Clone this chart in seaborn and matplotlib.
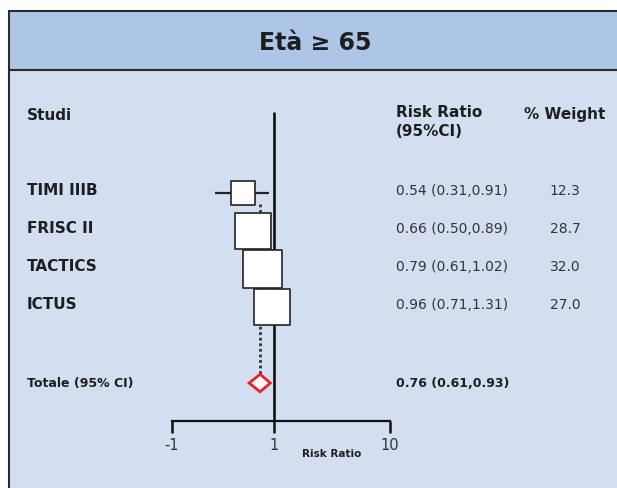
import matplotlib
matplotlib.use('Agg')
import matplotlib.pyplot as plt
import matplotlib.transforms as mtrans
from matplotlib.patches import Rectangle
from matplotlib.lines import Line2D
from matplotlib.ticker import NullLocator
import numpy as np
import pandas as pd
import seaborn as sns

# Data
studies = ['TIMI IIIB', 'FRISC II', 'TACTICS', 'ICTUS']
rr = [0.54, 0.66, 0.79, 0.96]
ci_low = [0.31, 0.50, 0.61, 0.71]
ci_high = [0.91, 0.89, 1.02, 1.31]
weights = [12.3, 28.7, 32.0, 27.0]
weight_labels = ['12.3', '28.7', '32.0', '27.0']

pooled_label = 'Totale (95% CI)'
pooled_rr = 0.76
pooled_low = 0.61
pooled_high = 0.93

tick_values = [0.132, 1, 10]
tick_labels = ['-1', '1', '10']

title = 'Età ≥ 65'

df = pd.DataFrame({'study': studies, 'rr': rr, 'low': ci_low,
                   'high': ci_high, 'weight': weights})
df['row'] = np.arange(len(df))
pooled_row = len(df) + 1

sns.set_style('white')
plt.rcParams['font.family'] = ['DejaVu Sans']

W, H = 617, 489
fig = plt.figure(figsize=(W / 100, H / 100), dpi=100)
fig.patch.set_facecolor('white')

def fx(px):
    return px / W

def fy(py):
    return 1 - py / H

# background panel + title band
fig.add_artist(Rectangle((fx(9), 0), 1 - fx(9), fy(12), transform=fig.transFigure,
                         facecolor='#d3dff0', edgecolor='none', zorder=-2))
fig.add_artist(Rectangle((fx(9), fy(71)), 1 - fx(9), fy(12) - fy(71),
                         transform=fig.transFigure, facecolor='#adc5e7',
                         edgecolor='none', zorder=-1))
for xs, ys in [([fx(9), fx(9)], [0, fy(12)]), ([fx(9), 1], [fy(12), fy(12)]),
               ([fx(9), 1], [fy(71), fy(71)])]:
    fig.add_artist(Line2D(xs, ys, transform=fig.transFigure, color='#2b2b2b',
                          lw=1.5, zorder=-0.5))

fig.text(fx(315), fy(43), title, ha='center', va='center', fontsize=17,
         fontweight='bold', color='#1e1e1e')

# forest axes covering the figure
ax = fig.add_axes([0, 0, 1, 1])
ax.patch.set_alpha(0)
ax.set_xscale('log')
ax.set_xlim(10 ** (-274 / 116), 10 ** ((W - 274) / 116))
row0, step = 194, 38
ax.set_ylim((H - row0) / step, -row0 / step)
axis_row = (421.7 - row0) / step
top_row = (113 - row0) / step
text_shift = -0.09

# reference line at 1
ax.vlines(1, top_row, axis_row, color='#111111', lw=1.9, zorder=2)
# dotted pooled line
ax.vlines(pooled_rr, 0.3, pooled_row - 0.23, color='#333333', lw=2,
          linestyles=(0, (1, 1)), zorder=1)
# confidence intervals
ax.hlines(df['row'], df['low'], df['high'], color='#222222', lw=1.6, zorder=2)
# boxes sized by weight
sns.scatterplot(data=df, x='rr', y='row', size='weight', sizes=(0, 28 ** 2),
                size_norm=(0, 32), marker='s', color='white', edgecolor='#222222',
                linewidth=1.2, legend=False, ax=ax, zorder=3)
# pooled diamond
dh = 0.23
ax.fill([pooled_low, pooled_rr, pooled_high, pooled_rr],
        [pooled_row, pooled_row - dh, pooled_row, pooled_row + dh],
        facecolor='white', edgecolor='#e8212a', lw=2, zorder=3)

# x axis
for side in ['top', 'right', 'left']:
    ax.spines[side].set_visible(False)
ax.spines['bottom'].set_position(('data', axis_row))
ax.spines['bottom'].set_bounds(tick_values[0], tick_values[-1])
ax.spines['bottom'].set_linewidth(1.6)
ax.spines['bottom'].set_color('#111111')
ax.set_xticks(tick_values)
ax.set_xticklabels(tick_labels)
ax.xaxis.set_minor_locator(NullLocator())
ax.tick_params(axis='x', direction='out', length=8.5, width=1.8, pad=3,
               labelsize=10.5, color='#111111', labelcolor='#333333', bottom=True)
ax.set_yticks([])
ax.set_xlabel('')
ax.set_ylabel('')

# text columns
blend = mtrans.blended_transform_factory(fig.transFigure, ax.transData)
for _, r in df.iterrows():
    ty = r['row'] + text_shift
    ax.text(fx(27), ty, r['study'], transform=blend, ha='left', va='center',
            fontsize=11, fontweight='bold', color='#1e1e1e')
    ax.text(fx(396), ty, f"{r['rr']:.2f} ({r['low']:.2f},{r['high']:.2f})",
            transform=blend, ha='left', va='center', fontsize=10, color='#333333')
for row, lab in zip(df['row'], weight_labels):
    ax.text(fx(565), row + text_shift, lab, transform=blend, ha='center',
            va='center', fontsize=10, color='#333333')

ax.text(fx(27), pooled_row, pooled_label, transform=blend, ha='left', va='center',
        fontsize=9, fontweight='bold', color='#1e1e1e')
ax.text(fx(396), pooled_row, f'{pooled_rr:.2f} ({pooled_low:.2f},{pooled_high:.2f})',
        transform=blend, ha='left', va='center', fontsize=9, fontweight='bold',
        color='#1e1e1e')

fig.text(fx(27), fy(115), 'Studi', ha='left', va='center', fontsize=11,
         fontweight='bold', color='#1e1e1e')
fig.text(fx(396), fy(105), 'Risk Ratio\n(95%CI)', ha='left', va='top', fontsize=11,
         fontweight='bold', color='#1e1e1e', linespacing=1.35)
fig.text(fx(565), fy(115), '% Weight', ha='center', va='center', fontsize=11,
         fontweight='bold', color='#1e1e1e')
fig.text(fx(332), fy(454), 'Risk Ratio', ha='center', va='center', fontsize=7.5,
         fontweight='bold', color='#1e1e1e')

fig.savefig('out.png', dpi=100)
